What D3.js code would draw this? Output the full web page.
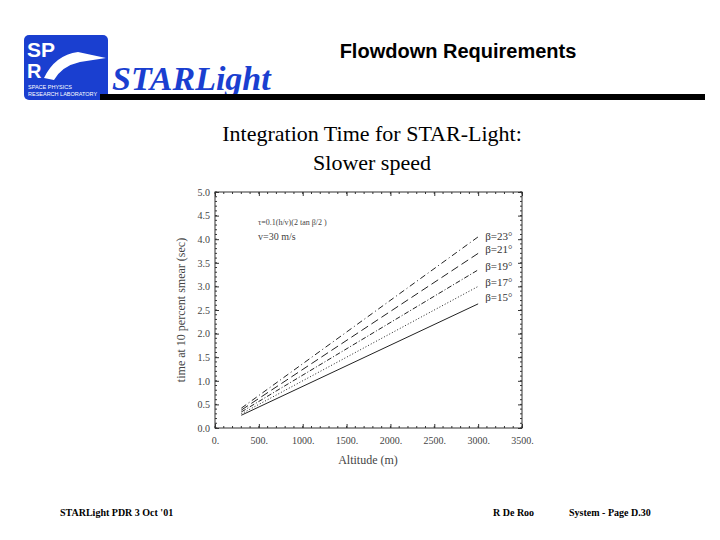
<!DOCTYPE html>
<html><head><meta charset="utf-8">
<script src="https://cdn.jsdelivr.net/npm/d3@7"></script>
<style>body{margin:0;background:#fff}</style></head>
<body><svg id="c" width="720" height="540"></svg>
<script>
const altitudes = [300, 3000];
const betaLabels = ["β=23°","β=21°","β=19°","β=17°","β=15°"];
const seriesValues = [
  [0.42, 4.05],
  [0.38, 3.70],
  [0.34, 3.35],
  [0.30, 3.00],
  [0.27, 2.63]
];
const labelValues = [4.0, 3.7, 3.35, 3.0, 2.7];
const dashes = ["6,3,1,3","8,4","5,2,1,2","1,2","none"];
const xTicks = [0,500,1000,1500,2000,2500,3000,3500];
const yTicks = [0,0.5,1,1.5,2,2.5,3,3.5,4,4.5,5];

const svg = d3.select("#c");
// logo
svg.append("rect").attr("x",24).attr("y",35).attr("width",84).attr("height",65).attr("rx",5).attr("fill","#1a3fd0");
svg.append("text").attr("x",27).attr("y",57).attr("fill","#fff").attr("font-family","Liberation Sans").attr("font-weight","bold").attr("font-size",21).text("SP");
svg.append("text").attr("x",27).attr("y",78).attr("fill","#fff").attr("font-family","Liberation Sans").attr("font-weight","bold").attr("font-size",20).text("R");
svg.append("path").attr("d","M44,78 Q55,55 78,52 L106,58 L80,62 Q62,66 54,80 Z").attr("fill","#fff");
svg.append("text").attr("x",28).attr("y",89).attr("fill","#fff").attr("font-family","Liberation Sans").attr("font-size",5.5).text("SPACE PHYSICS");
svg.append("text").attr("x",28).attr("y",96).attr("fill","#fff").attr("font-family","Liberation Sans").attr("font-size",5.5).text("RESEARCH LABORATORY");
svg.append("text").attr("x",112).attr("y",90).attr("fill","#1a3fd0").attr("font-family","Liberation Serif").attr("font-style","italic").attr("font-weight","bold").attr("font-size",34).text("STARLight");
svg.append("rect").attr("x",100).attr("y",94).attr("width",605).attr("height",6).attr("fill","#000");
svg.append("text").attr("x",458).attr("y",58).attr("text-anchor","middle").attr("font-family","Liberation Sans").attr("font-weight","bold").attr("font-size",20).text("Flowdown Requirements");
svg.append("text").attr("x",372).attr("y",141).attr("text-anchor","middle").attr("font-family","Liberation Serif").attr("font-size",22).text("Integration Time for STAR-Light:");
svg.append("text").attr("x",372).attr("y",170).attr("text-anchor","middle").attr("font-family","Liberation Serif").attr("font-size",22).text("Slower speed");
// footer
const foot=(x,t)=>svg.append("text").attr("x",x).attr("y",516).attr("font-family","Liberation Serif").attr("font-weight","bold").attr("font-size",10).text(t);
foot(60,"STARLight PDR  3 Oct '01"); foot(493,"R De Roo"); foot(569,"System - Page D.30");

// chart
const x = d3.scaleLinear().domain([0,3500]).range([215,522]);
const y = d3.scaleLinear().domain([0,5]).range([428,192]);
const g = svg.append("g").attr("font-family","Liberation Serif").attr("fill","#444");
g.append("rect").attr("x",215).attr("y",192).attr("width",307).attr("height",236).attr("fill","none").attr("stroke","#333");
const ax = g.append("g").attr("transform","translate(0,428)").call(d3.axisBottom(x).tickValues(xTicks).tickSize(-4).tickFormat(d=>d+"."));
const ax2 = g.append("g").attr("transform","translate(0,192)").call(d3.axisTop(x).tickValues(xTicks).tickSize(-4).tickFormat(""));
const ay = g.append("g").attr("transform","translate(215,0)").call(d3.axisLeft(y).tickValues(yTicks).tickSize(-4).tickFormat(d3.format(".1f")));
const ay2 = g.append("g").attr("transform","translate(522,0)").call(d3.axisRight(y).tickValues(yTicks).tickSize(-4).tickFormat(""));
[ax,ax2,ay,ay2].forEach(a=>{a.select(".domain").remove();a.selectAll("line").attr("stroke","#333");a.selectAll("text").attr("font-family","Liberation Serif").attr("font-size",10).attr("fill","#444");});
ax.selectAll("text").attr("dy","1.3em");
ay.selectAll("text").attr("dx","-2");
const minorX = d3.range(0,3501,100), minorY = d3.range(0,5.01,0.1);
g.selectAll(".mx").data(minorX).join("line").attr("x1",d=>x(d)).attr("x2",d=>x(d)).attr("y1",428).attr("y2",426).attr("stroke","#333");
g.selectAll(".mx2").data(minorX).join("line").attr("x1",d=>x(d)).attr("x2",d=>x(d)).attr("y1",192).attr("y2",194).attr("stroke","#333");
g.selectAll(".my").data(minorY).join("line").attr("x1",215).attr("x2",217).attr("y1",d=>y(d)).attr("y2",d=>y(d)).attr("stroke","#333");
g.selectAll(".my2").data(minorY).join("line").attr("x1",520).attr("x2",522).attr("y1",d=>y(d)).attr("y2",d=>y(d)).attr("stroke","#333");
const line = d3.line().x((d,i)=>x(altitudes[i])).y(d=>y(d));
seriesValues.forEach((s,k)=>{
  g.append("path").attr("d",line(s)).attr("fill","none").attr("stroke","#222").attr("stroke-width",1).attr("stroke-dasharray",dashes[k]);
  g.append("text").attr("x",x(3000)+7).attr("y",y(labelValues[k])-(k==0?-1:0)).attr("font-size",11).attr("fill","#333").text(betaLabels[k]);
});
g.append("text").attr("x",258).attr("y",225).attr("font-size",8).attr("fill","#444").text("τ=0.1(h/v)(2 tan β/2 )");
g.append("text").attr("x",258).attr("y",240).attr("font-size",10).attr("fill","#444").text("v=30 m/s");
g.append("text").attr("x",368).attr("y",464).attr("text-anchor","middle").attr("font-size",12).attr("fill","#444").text("Altitude (m)");
g.append("text").attr("transform","translate(185,310) rotate(-90)").attr("text-anchor","middle").attr("font-size",12).attr("fill","#444").text("time at 10 percent smear  (sec)");
</script></body></html>
